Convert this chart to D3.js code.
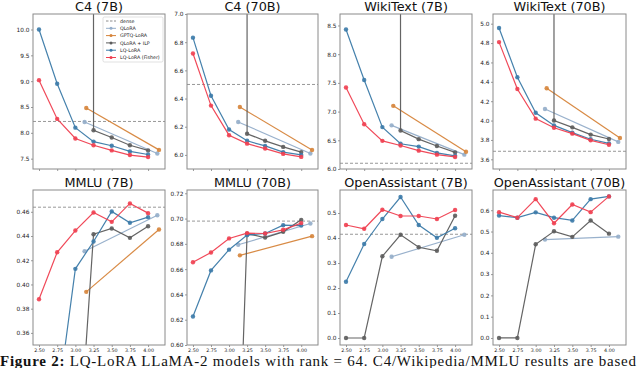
<!DOCTYPE html>
<html>
<head>
<meta charset="utf-8">
<script src="https://cdn.jsdelivr.net/npm/d3@7"></script>
<style>
  body { margin: 0; background: #fff; }
  svg { display: block; }
  .tick text { fill: #222; }
</style>
</head>
<body>
<div id="chart"></div>
<script>
// bits per parameter on the x axis
var bitsLQ = [2.5, 2.75, 3.0, 3.25, 3.5, 3.75, 4.0];
var bitsQLoRA = [3.127, 4.127];
var bitsGPTQ = [3.15, 4.15];
var xTicks = [2.5, 2.75, 3.0, 3.25, 3.5, 3.75, 4.0];

var titles = ["C4 (7B)", "C4 (70B)", "WikiText (7B)", "WikiText (70B)",
              "MMLU (7B)", "MMLU (70B)", "OpenAssistant (7B)", "OpenAssistant (70B)"];

// one entry per panel, same order as titles
var lqLora = [
  [10.0, 8.95, 8.10, 7.83, 7.75, 7.64, 7.58],
  [6.832, 6.42, 6.18, 6.10, 6.064, 6.02, 6.00],
  [8.43, 7.55, 6.73, 6.44, 6.39, 6.28, 6.23],
  [4.956, 4.447, 4.08, 3.95, 3.875, 3.807, 3.765],
  [0.26, 0.30, 0.4129, 0.4355, 0.4603, 0.4509, 0.4556],
  [0.6226, 0.659, 0.6754, 0.6869, 0.6882, 0.6948, 0.6945],
  [0.225, 0.376, 0.476, 0.564, 0.452, 0.401, 0.439],
  [0.575, 0.565, 0.590, 0.565, 0.552, 0.652, 0.665]
];
var lqFisher = [
  [9.02, 8.27, 7.89, 7.76, 7.66, 7.57, 7.53],
  [6.72, 6.35, 6.14, 6.08, 6.045, 6.007, 5.986],
  [7.42, 6.78, 6.49, 6.41, 6.32, 6.25, 6.21],
  [4.81, 4.326, 4.02, 3.926, 3.865, 3.796, 3.75],
  [0.3878, 0.4266, 0.4445, 0.4594, 0.4517, 0.4669, 0.4589],
  [0.6654, 0.6732, 0.6843, 0.6885, 0.6882, 0.6911, 0.6964],
  [0.452, 0.437, 0.513, 0.488, 0.488, 0.476, 0.512],
  [0.591, 0.565, 0.652, 0.539, 0.627, 0.591, 0.665]
];
// ILP runs below 3.25 bits blow up (far off the plotted range)
var qloraIlp = [
  [1000, 1000, 1000, 8.05, 7.91, 7.76, 7.66],
  [1000, 1000, 1000, 6.15, 6.10, 6.057, 6.02],
  [1000, 1000, 1000, 6.67, 6.52, 6.40, 6.29],
  [1000, 1000, 1000, 4.00, 3.93, 3.855, 3.81],
  [0.24, 0.24, 0.22, 0.4415, 0.4462, 0.4385, 0.4481],
  [0.25, 0.25, 0.28, 0.688, 0.685, 0.6895, 0.699],
  [0.0, 0.0, 0.327, 0.413, 0.363, 0.349, 0.489],
  [0.0, 0.0, 0.44, 0.501, 0.475, 0.552, 0.490]
];
var qlora = [
  [8.21, 7.60], [6.234, 6.01], [6.76, 6.25], [4.12, 3.78],
  [0.4274, 0.4572], [0.6793, 0.6961], [0.325, 0.413], [0.462, 0.476]
];
var gptq = [
  [8.48, 7.67], [6.34, 6.035], [7.10, 6.30], [4.333, 3.82],
  [0.3939, 0.4454], [0.6709, 0.6861], null, null
];
var dense = [8.22, 6.50, 6.10, 3.683, 0.4638, 0.698, 0.415, null];

var yTicks = [
  [7.5, 8.0, 8.5, 9.0, 9.5, 10.0],
  [6.0, 6.2, 6.4, 6.6, 6.8, 7.0],
  [6.0, 6.5, 7.0, 7.5, 8.0, 8.5],
  [3.6, 3.8, 4.0, 4.2, 4.4, 4.6, 4.8, 5.0],
  [0.36, 0.38, 0.40, 0.42, 0.44, 0.46],
  [0.60, 0.62, 0.64, 0.66, 0.68, 0.70, 0.72],
  [0.0, 0.1, 0.2, 0.3, 0.4, 0.5],
  [0.0, 0.1, 0.2, 0.3, 0.4, 0.5, 0.6]
];
var yDomains = [
  [7.3, 10.3], [5.9, 7.0], [6.0, 8.7], [3.5, 5.1],
  [0.35, 0.478], [0.60, 0.7226], [-0.028, 0.592], [-0.033, 0.695]
];
var yFormats = [".1f", ".1f", ".1f", ".1f", ".2f", ".2f", ".1f", ".1f"];

function init() {
    var w = 640, h = 368;
    var colLeft = [33, 187, 340, 493];
    var colRight = [165, 318, 472, 626];
    var rowTop = [14, 190];
    var rowBottom = [169, 345];

    var colors = {
        dense: "#8c8c8c",
        qlora: "#94adc9",
        gptq: "#d6843a",
        ilp: "#5c5c5c",
        lq: "#3b7aa8",
        fisher: "#ef3f50"
    };

    var svg = d3.select("#chart")
                .append("svg")
                .attr("width", w)
                .attr("height", h);

    titles.forEach(function(title, i) {
        var c = i % 4, r = Math.floor(i / 4);
        var x = d3.scaleLinear().domain([2.4175, 4.2325]).range([colLeft[c], colRight[c]]);
        var y = d3.scaleLinear().domain(yDomains[i]).range([rowBottom[r], rowTop[r]]);

        var g = svg.append("g");

        g.append("clipPath").attr("id", "clip" + i)
            .append("rect")
            .attr("x", colLeft[c]).attr("y", rowTop[r])
            .attr("width", colRight[c] - colLeft[c])
            .attr("height", rowBottom[r] - rowTop[r]);

        // title
        g.append("text")
            .attr("x", (colLeft[c] + colRight[c]) / 2)
            .attr("y", r == 0 ? 11 : 186.5)
            .attr("text-anchor", "middle")
            .attr("font-family", "DejaVu Sans")
            .attr("font-size", "12.8px")
            .attr("fill", "#111")
            .text(title);

        // axes
        var yAxis = d3.axisLeft(y).tickValues(yTicks[i])
            .tickFormat(d3.format(yFormats[i])).tickSize(2).tickPadding(1.5);
        g.append("g").attr("transform", "translate(" + colLeft[c] + ",0)")
            .call(yAxis)
            .call(function(a) {
                a.select(".domain").remove();
                a.selectAll("line").attr("stroke", "#555").attr("stroke-width", 0.6);
                a.selectAll("text").attr("font-family", "DejaVu Sans").attr("font-size", "5.8px");
            });

        var xAxis = d3.axisBottom(x).tickValues(xTicks)
            .tickFormat(r == 1 ? d3.format(".2f") : "").tickSize(2).tickPadding(1.5);
        g.append("g").attr("transform", "translate(0," + rowBottom[r] + ")")
            .call(xAxis)
            .call(function(a) {
                a.select(".domain").remove();
                a.selectAll("line").attr("stroke", "#555").attr("stroke-width", 0.6);
                a.selectAll("text").attr("font-family", "DejaVu Sans").attr("font-size", "4.8px");
            });

        var plot = g.append("g").attr("clip-path", "url(#clip" + i + ")");

        if (dense[i] != null) {
            plot.append("line")
                .attr("x1", colLeft[c]).attr("x2", colRight[c])
                .attr("y1", y(dense[i])).attr("y2", y(dense[i]))
                .attr("stroke", colors.dense).attr("stroke-width", 0.9)
                .attr("stroke-dasharray", "3,2");
        }

        var line = d3.line().x(function(d) { return x(d[0]); }).y(function(d) { return y(d[1]); });

        function series(xs, ys, color) {
            var pts = d3.zip(xs, ys);
            plot.append("path")
                .datum(pts)
                .attr("d", line)
                .attr("fill", "none")
                .attr("stroke", color)
                .attr("stroke-width", 1.2)
                .attr("opacity", 0.95);
            plot.selectAll(null)
                .data(pts)
                .enter()
                .append("circle")
                .attr("cx", function(d) { return x(d[0]); })
                .attr("cy", function(d) { return y(d[1]); })
                .attr("r", 2.2)
                .attr("fill", color)
                .attr("opacity", 0.9);
        }

        series(bitsQLoRA, qlora[i], colors.qlora);
        if (gptq[i]) series(bitsGPTQ, gptq[i], colors.gptq);
        series(bitsLQ, qloraIlp[i], colors.ilp);
        series(bitsLQ, lqLora[i], colors.lq);
        series(bitsLQ, lqFisher[i], colors.fisher);

        // frame
        g.append("rect")
            .attr("x", colLeft[c]).attr("y", rowTop[r])
            .attr("width", colRight[c] - colLeft[c])
            .attr("height", rowBottom[r] - rowTop[r])
            .attr("fill", "none")
            .attr("stroke", "#8a8a8a")
            .attr("stroke-width", 1);
    });

    // legend in the first panel
    var legendItems = [
        {name: "dense", color: colors.dense, dash: true},
        {name: "QLoRA", color: colors.qlora},
        {name: "GPTQ-LoRA", color: colors.gptq},
        {name: "QLoRA + ILP", color: colors.ilp},
        {name: "LQ-LoRA", color: colors.lq},
        {name: "LQ-LoRA (Fisher)", color: colors.fisher}
    ];
    var lg = svg.append("g").attr("transform", "translate(103,17)");
    lg.append("rect")
        .attr("width", 60).attr("height", 45).attr("rx", 1.5)
        .attr("fill", "#fff").attr("fill-opacity", 0.85)
        .attr("stroke", "#ccc").attr("stroke-width", 0.6);
    legendItems.forEach(function(d, k) {
        var yy = 4 + k * 7.3;
        lg.append("line")
            .attr("x1", 3).attr("x2", 13).attr("y1", yy).attr("y2", yy)
            .attr("stroke", d.color).attr("stroke-width", 1)
            .attr("stroke-dasharray", d.dash ? "2.5,1.5" : null);
        if (!d.dash) {
            lg.append("circle").attr("cx", 8).attr("cy", yy).attr("r", 1.5).attr("fill", d.color);
        }
        lg.append("text")
            .attr("x", 17).attr("y", yy + 1.7)
            .attr("font-family", "DejaVu Sans").attr("font-size", "4.8px")
            .attr("fill", "#222")
            .text(d.name);
    });

    // caption line under the figure
    var cap = svg.append("text")
        .attr("x", 0).attr("y", 365.5)
        .attr("font-family", "Liberation Serif")
        .attr("font-size", "15px")
        .attr("fill", "#111")
        .attr("textLength", 636)
        .attr("lengthAdjust", "spacing");
    cap.append("tspan").attr("font-weight", "bold").text("Figure 2: ");
    cap.append("tspan").text("LQ-LoRA LLaMA-2 models with rank = 64. C4/Wikipedia/MMLU results are based");
}
window.onload = init;
</script>
</body>
</html>
